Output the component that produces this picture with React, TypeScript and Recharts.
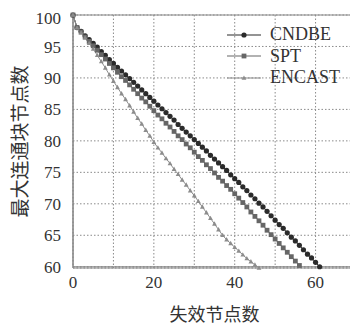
import { CartesianGrid, Label, Line, LineChart, ReferenceArea, XAxis, YAxis } from 'recharts'

// y values read per failed node (x = index)
const CNDBE = [
  100, 98.0, 97.4, 96.7, 96.1, 95.5, 94.9, 94.2, 93.6, 92.9, 92.3, 91.7, 91.1, 90.5, 89.9, 89.3, 88.7, 88.1, 87.5,
  86.9, 86.3, 85.7, 85.1, 84.5, 83.9, 83.3, 82.6, 82.0, 81.4, 80.8, 80.2, 79.6, 79.0, 78.4, 77.7, 77.1, 76.5, 75.9,
  75.3, 74.6, 74.0, 73.4, 72.7, 72.1, 71.4, 70.8, 70.1, 69.5, 68.8, 68.1, 67.4, 66.7, 66.1, 65.4, 64.7, 64.1, 63.4,
  62.7, 62.0, 61.4, 60.7, 60.0,
]
const SPT = [
  100, 98.0, 97.3, 96.5, 95.8, 95.1, 94.4, 93.7, 93.0, 92.3, 91.6, 90.9, 90.2, 89.6, 88.9, 88.2, 87.5, 86.8, 86.2,
  85.5, 84.8, 84.1, 83.5, 82.8, 82.2, 81.5, 80.8, 80.2, 79.5, 78.9, 78.2, 77.5, 76.9, 76.2, 75.6, 74.9, 74.2, 73.6,
  72.9, 72.3, 71.6, 70.9, 70.2, 69.5, 68.7, 68.0, 67.3, 66.6, 65.8, 65.1, 64.4, 63.7, 63.0, 62.3, 61.6, 60.9, 60.2,
]
const ENCAST = [
  100, 98.0, 97.2, 96.4, 95.5, 94.6, 93.6, 92.6, 91.6, 90.5, 89.5, 88.5, 87.5, 86.6, 85.6, 84.6, 83.6, 82.7, 81.7,
  80.8, 79.8, 78.9, 78.1, 77.2, 76.4, 75.5, 74.7, 73.8, 73.0, 72.1, 71.3, 70.4, 69.5, 68.6, 67.7, 66.8, 65.9, 65.0,
  64.3, 63.7, 63.1, 62.5, 61.9, 61.3, 60.8, 60.3, 59.8,
]

const X_TICKS = [0, 10, 20, 30, 40, 50, 60, 70]
const X_LABELED = [0, 20, 40, 60]
const Y_TICKS = [60, 65, 70, 75, 80, 85, 90, 95, 100]

const SERIF = '"Liberation Serif", "DejaVu Serif", serif'
const CJK = '"Noto Sans CJK SC", sans-serif'

const SERIES = [
  { key: 'CNDBE', values: CNDBE, color: '#2b2b2b', shape: 'circle' },
  { key: 'SPT', values: SPT, color: '#666666', shape: 'square' },
  { key: 'ENCAST', values: ENCAST, color: '#8c8c8c', shape: 'triangle' },
]

function toRows(values: number[]) {
  return values.map((y, x) => ({ x, y }))
}

function Marker({ shape, cx, cy, color }: { shape: string; cx: number; cy: number; color: string }) {
  if (shape === 'circle') return <circle cx={cx} cy={cy} r={2.6} fill={color} />
  if (shape === 'square') return <rect x={cx - 2.4} y={cy - 2.4} width={4.8} height={4.8} fill={color} />
  return <path d={`M${cx},${cy - 2.6} L${cx + 2.4},${cy + 1.8} L${cx - 2.4},${cy + 1.8} Z`} fill={color} />
}

function makeDot(shape: string, color: string) {
  return (props: any) => {
    if (props.cx == null || props.cy == null) return <g key={`${shape}-${props.index}`} />
    return (
      <g key={`${shape}-${props.index}`}>
        <Marker shape={shape} cx={props.cx} cy={props.cy} color={color} />
      </g>
    )
  }
}

function LegendBox() {
  return (
    <div style={{ position: 'absolute', left: 219, top: 16, fontFamily: SERIF, fontSize: 18, color: '#333' }}>
      {SERIES.map((s) => (
        <div key={s.key} style={{ display: 'flex', alignItems: 'center', height: 21.5 }}>
          <svg width={34} height={10} style={{ marginRight: 9 }}>
            <line x1={0} y1={5} x2={34} y2={5} stroke={s.color} strokeWidth={1.2} />
            <Marker shape={s.shape} cx={17} cy={5} color={s.color} />
          </svg>
          <span>{s.key}</span>
        </div>
      ))}
    </div>
  )
}

export default function App() {
  return (
    <div style={{ position: 'relative', width: 350, height: 321 }}>
      <LineChart width={350} height={321} margin={{ top: 7, right: 2, bottom: 0, left: 0 }}>
        <CartesianGrid stroke="#8a8a8a" strokeDasharray="1.5 2" />
        <XAxis
          dataKey="x"
          type="number"
          domain={[0, 70]}
          ticks={X_TICKS}
          tickFormatter={(v) => (X_LABELED.includes(Number(v)) ? String(v) : '')}
          allowDuplicatedCategory={false}
          axisLine={{ stroke: '#888' }}
          tickLine={false}
          tickSize={0}
          tickMargin={8}
          height={61}
          tick={{ fontFamily: SERIF, fontSize: 17, fill: '#333' }}
        >
          <Label value="失效节点数" position="insideBottom" offset={8} style={{ fontFamily: CJK, fontSize: 18, fill: '#333' }} />
        </XAxis>
        <YAxis
          type="number"
          domain={[60, 100]}
          ticks={Y_TICKS}
          axisLine={{ stroke: '#888' }}
          tickLine={false}
          tickSize={0}
          tickMargin={12}
          width={65}
          tick={{ fontFamily: SERIF, fontSize: 17, fill: '#333' }}
        >
          <Label
            value="最大连通块节点数"
            angle={-90}
            position="insideLeft"
            offset={12}
            style={{ fontFamily: CJK, fontSize: 19, fill: '#333', textAnchor: 'middle' }}
          />
        </YAxis>
        <ReferenceArea x1={0} x2={70} y1={60} y2={100} fill="none" stroke="#888" strokeWidth={1.2} />
        {SERIES.map((s) => (
          <Line
            key={s.key}
            data={toRows(s.values)}
            dataKey="y"
            name={s.key}
            type="linear"
            stroke={s.color}
            strokeWidth={1}
            dot={makeDot(s.shape, s.color)}
            activeDot={false}
            isAnimationActive={false}
          />
        ))}
      </LineChart>
      <LegendBox />
    </div>
  )
}
